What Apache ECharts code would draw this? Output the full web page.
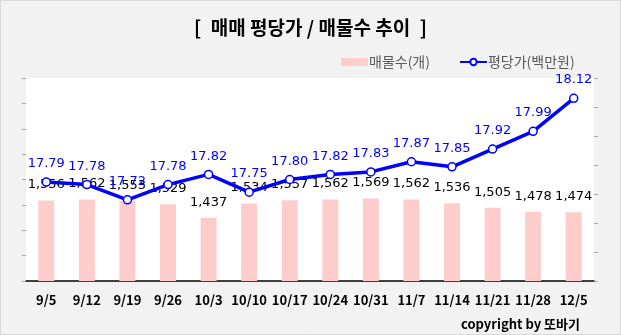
<!DOCTYPE html>
<html>
<head>
<meta charset="utf-8">
<script src="https://cdn.jsdelivr.net/npm/echarts@6/dist/echarts.min.js"></script>
<style>
html,body{margin:0;padding:0;background:#f2f2f2;}
#c{width:621px;height:335px;}
</style>
</head>
<body>
<div id="c"></div>
<script>
var categories = ['9/5','9/12','9/19','9/26','10/3','10/10','10/17','10/24','10/31','11/7','11/14','11/21','11/28','12/5'];
var listings = [1556,1562,1553,1529,1437,1534,1557,1562,1569,1562,1536,1505,1478,1474];
var pricePerPyeong = [17.79,17.78,17.72,17.78,17.82,17.75,17.80,17.82,17.83,17.87,17.85,17.92,17.99,18.12];
var titleText = '[\u2002매매 평당가 / 매물수 추이\u2002]';
var barName = '매물수(개)';
var lineName = '평당가(백만원)';
var copyrightText = 'copyright by 또바기';

var chart = echarts.init(document.getElementById('c'), null, {renderer:'canvas'});
var KR = '"Noto Sans CJK KR", "Noto Sans", sans-serif';
var NUM = '"DejaVu Sans", sans-serif';
chart.setOption({
  backgroundColor: '#f2f2f2',
  animation: false,
  title: {
    text: titleText, left: 'center', top: 13,
    textStyle: {fontFamily: KR, fontSize: 19, fontWeight: 'bold', color: '#000'}
  },
  legend: {
    left: 336, top: 50, itemGap: 29, itemWidth: 27, itemHeight: 8,
    textStyle: {fontFamily: KR, fontSize: 14, color: '#595959', padding: [0,0,0,-4]},
    data: [
      {name: barName, icon: 'rect', itemStyle: {color: '#ffcccc'}},
      {name: lineName}
    ]
  },
  graphic: [
    {type: 'rect', shape: {x: 0.5, y: 0.5, width: 620, height: 334}, style: {fill: 'none', stroke: '#d9d9d9', lineWidth: 1}, silent: true},
    {type: 'text', right: 41, top: 318, style: {text: copyrightText, font: 'bold 13px ' + KR, fill: '#000'}}
  ],
  grid: {left: 26, right: 27, top: 78, bottom: 54, show: true, backgroundColor: '#fff', borderWidth: 0},
  xAxis: {
    type: 'category', data: categories,
    axisLine: {lineStyle: {color: '#000', width: 1.5}},
    axisTick: {show: false},
    axisLabel: {fontFamily: KR, fontSize: 13, fontWeight: 'bold', color: '#000', margin: 13, interval: 0}
  },
  yAxis: [
    {type: 'value', min: 1000, max: 2400, interval: 175, position: 'left',
     axisLine: {show: false}, axisTick: {show: true, length: 4, lineStyle: {color: '#a6a6a6'}},
     axisLabel: {show: false}, splitLine: {show: false}},
    {type: 'value', min: 17.4, max: 18.2, interval: 0.8/7, position: 'right',
     axisLine: {show: false}, axisTick: {show: true, length: 4, lineStyle: {color: '#a6a6a6'}},
     axisLabel: {show: false}, splitLine: {show: false}}
  ],
  series: [
    {
      name: barName, type: 'bar', data: listings, barWidth: 16, yAxisIndex: 0,
      itemStyle: {color: '#ffcccc'},
      label: {show: true, position: 'top', distance: 9, color: '#000', fontFamily: NUM, fontSize: 13,
        formatter: function(p){ return p.value.toLocaleString('en-US'); }}
    },
    {
      name: lineName, type: 'line', data: pricePerPyeong, yAxisIndex: 1,
      symbol: 'circle', symbolSize: 8,
      lineStyle: {color: '#0000ff', width: 3.5},
      itemStyle: {color: '#fff', borderColor: '#0000ff', borderWidth: 1.5},
      label: {show: true, position: 'top', distance: 7, color: '#0000ff', fontFamily: NUM, fontSize: 13,
        formatter: function(p){ return p.value.toFixed(2); }},
      z: 3
    }
  ]
});
</script>
</body>
</html>
